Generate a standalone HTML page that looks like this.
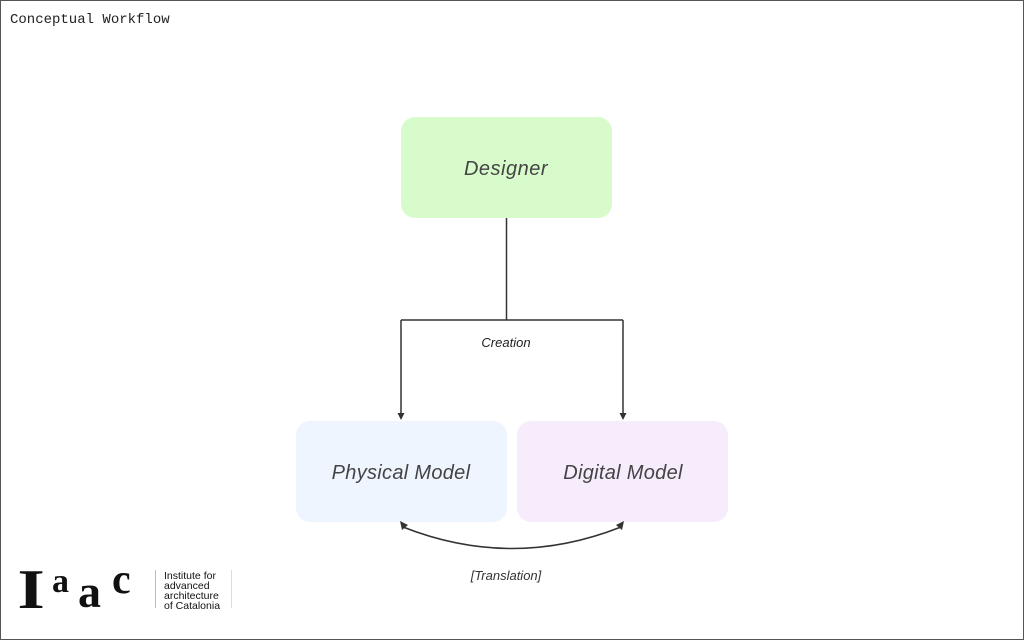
<!DOCTYPE html>
<html><head><meta charset="utf-8"><style>
html,body{margin:0;padding:0;background:#fff}
body{width:1024px;height:640px;overflow:hidden;position:relative}
.frame{position:absolute;left:0;top:0;width:1022px;height:638px;border:1px solid #555}
svg{position:absolute;left:0;top:0}
</style></head><body>
<div class="frame"></div>
<svg width="1024" height="640" viewBox="0 0 1024 640">
<text x="10" y="23" font-family="Liberation Mono, monospace" font-size="14" fill="#222">Conceptual Workflow</text>
<rect x="401" y="117" width="211" height="101" rx="14" fill="#d8fbcc"/>
<text x="506" y="175" text-anchor="middle" font-family="Liberation Sans, sans-serif" font-style="italic" font-size="20" fill="#444" letter-spacing="0.5">Designer</text>
<rect x="296" y="421" width="211" height="101" rx="14" fill="#eef5fe"/>
<text x="401" y="479" text-anchor="middle" font-family="Liberation Sans, sans-serif" font-style="italic" font-size="20" fill="#444" letter-spacing="0.3">Physical Model</text>
<rect x="517" y="421" width="211" height="101" rx="14" fill="#f7ecfb"/>
<text x="623" y="479" text-anchor="middle" font-family="Liberation Sans, sans-serif" font-style="italic" font-size="20" fill="#444" letter-spacing="0.3">Digital Model</text>
<g stroke="#333" stroke-width="1.5" fill="none">
<path d="M506.5 218 V320 M401 320 H623 M401 320 V414 M623 320 V414"/>
<path d="M403 527 Q512 570 621 527"/>
</g>
<g fill="#333">
<path d="M397.5 413 L404.5 413 L401 420 Z"/>
<path d="M619.5 413 L626.5 413 L623 420 Z"/>
<path d="M400 521 L408 525 L402 530 Z"/>
<path d="M624 521 L616 525 L622 530 Z"/>
</g>
<text x="506" y="347" text-anchor="middle" font-family="Liberation Sans, sans-serif" font-style="italic" font-size="13" fill="#222">Creation</text>
<text x="506" y="580" text-anchor="middle" font-family="Liberation Sans, sans-serif" font-style="italic" font-size="13" fill="#333">[Translation]</text>
<g font-family="Liberation Serif, serif" font-weight="bold" fill="#111">
<text x="18" y="608" font-size="56" transform="scale(1.25,1) translate(-4,0)">I</text>
<text x="52" y="592" font-size="34">a</text>
<text x="78" y="607" font-size="46">a</text>
<text x="112" y="593" font-size="42">c</text>
</g>
<line x1="155.5" y1="570" x2="155.5" y2="608" stroke="#bbb"/>
<line x1="231.5" y1="570" x2="231.5" y2="608" stroke="#ddd"/>
<g font-family="Liberation Sans, sans-serif" font-size="10.5" fill="#111">
<text x="164" y="579">Institute for</text>
<text x="164" y="589">advanced</text>
<text x="164" y="599">architecture</text>
<text x="164" y="609">of Catalonia</text>
</g>
</svg>
</body></html>
